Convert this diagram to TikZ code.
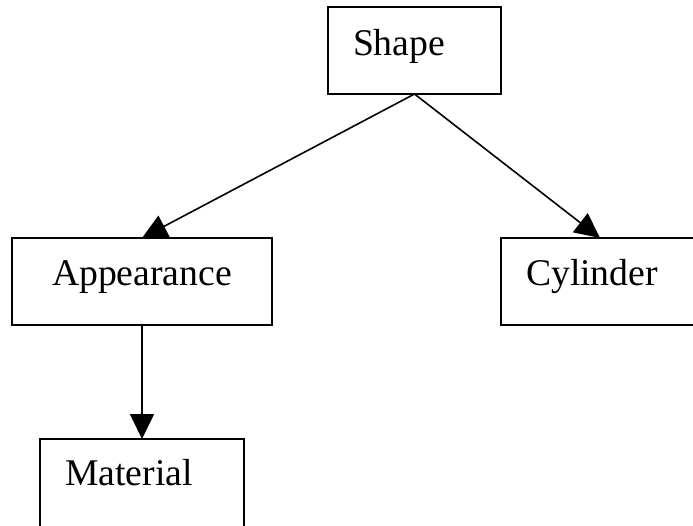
\documentclass[tikz,border=0pt]{standalone}
\usepackage{fontspec}
\setmainfont{Liberation Serif}
\usetikzlibrary{arrows.meta}
\begin{document}
\begin{tikzpicture}[x=1pt,y=-1pt,
  box/.style={draw, line width=1.8pt, anchor=north west, outer sep=0pt,
    inner xsep=25pt, inner ysep=0pt, text height=47pt, text depth=40pt,
    align=left, font=\fontsize{37.7}{40}\selectfont},
  conn/.style={line width=1.6pt, -{Triangle[length=25pt,width=24pt]}}]
\useasboundingbox (0,0) rectangle (693,525);
\node[box, text width=123pt, text height=48pt, text depth=39pt] (shape) at (328,7) {Shape};
\node[box, text width=210pt, align=center] (appearance) at (12,238) {Appearance};
\node[box, text width=148pt] (cylinder) at (501,238) {Cylinder};
\node[box, text width=154pt, text height=46pt, text depth=55pt] (material) at (40,439) {Material};
\draw[conn] (shape.south) -- (appearance.north);
\draw[conn] (shape.south) -- (cylinder.north);
\draw[conn] (appearance.south) -- (appearance.south |- material.north);
\end{tikzpicture}
\end{document}
